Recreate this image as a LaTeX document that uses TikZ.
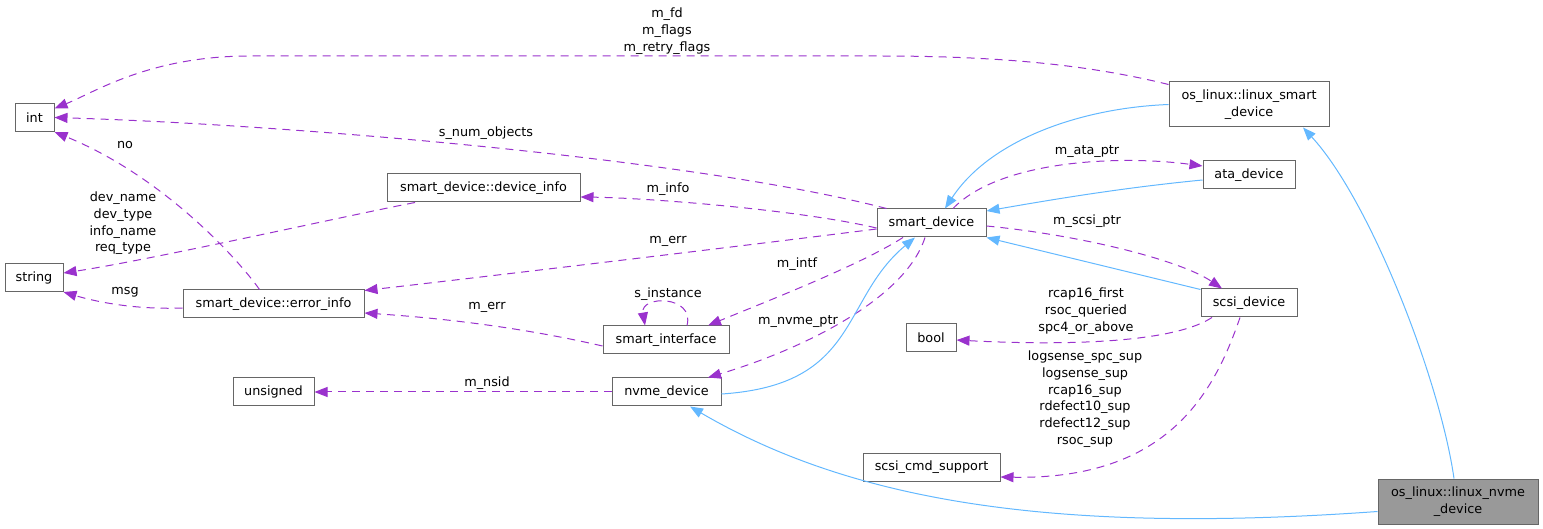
\documentclass[tikz,border=0pt]{standalone}
\usepackage{fontspec}
\newfontfamily\dvs{DejaVu Sans}
\usetikzlibrary{arrows.meta}

\definecolor{roxo}{HTML}{9A32CD}
\definecolor{azul}{HTML}{63B8FF}
\definecolor{borda}{HTML}{666666}
\definecolor{cinza}{HTML}{999999}

\begin{document}
\begin{tikzpicture}[x=1pt, y=-1pt,
    every node/.style={font=\dvs\fontsize{12.8}{16.7}\selectfont},
    cls/.style={draw=borda, fill=white, line width=1pt, minimum height=28pt, inner sep=0pt, align=center},
    hcls/.style={cls, fill=cinza, minimum height=45pt},
    lbl/.style={inner sep=0pt, align=center},
    uses/.style={roxo, line width=1pt, dash pattern=on 8pt off 6pt, -{Triangle[length=13pt,width=10pt]}},
    inh/.style={azul, line width=1pt, -{Triangle[length=13pt,width=10pt]}}]

        \useasboundingbox (0,0) rectangle (1543,529);

        % classes
        \node[cls, minimum width=39pt] (int) at (34.5,117.5) {int};
        \node[cls, minimum width=58pt] (string) at (34,277.5) {string};
        \node[cls, minimum width=193pt] (devinfo) at (483.5,188) {smart\_device::device\_info};
        \node[cls, minimum width=181pt] (errinfo) at (273.5,304) {smart\_device::error\_info};
        \node[cls, minimum width=81pt] (unsigned) at (273.5,392) {unsigned};
        \node[cls, minimum width=109pt] (smartdev) at (931.5,223) {smart\_device};
        \node[cls, minimum width=126pt] (smartif) at (666,340) {smart\_interface};
        \node[cls, minimum width=109pt] (nvme) at (666.5,392) {nvme\_device};
        \node[cls, minimum width=50pt] (bool) at (931,338) {bool};
        \node[cls, minimum width=137pt] (cmdsup) at (931.5,467) {scsi\_cmd\_support};
        \node[cls, minimum width=160pt, minimum height=45pt] (lsmart) at (1249,104.5) {os\_linux::linux\_smart\\\_device};
        \node[cls, minimum width=92pt] (ata) at (1249,175) {ata\_device};
        \node[cls, minimum width=96pt] (scsi) at (1249,303) {scsi\_device};
        \node[hcls, minimum width=160pt] (lnvme) at (1458,501.5) {os\_linux::linux\_nvme\\\_device};

        % membros (tracejado)
        \draw[uses] ([yshift=-3pt]lsmart.north west) .. controls (1090,65) and (1000,56) .. (880,56)
            -- (250,56) .. controls (150,56) and (95,92) .. ([yshift=9pt]int.east);
        \draw[uses] ([xshift=10pt]smartdev.north west) .. controls (700,160) and (300,125) .. (int.east);
        \draw[uses] ([xshift=-14pt]errinfo.north) .. controls (235,255) and (160,175) .. (int.south east);
        \draw[uses] ([xshift=-68.5pt]devinfo.south) .. controls (350,215) and (150,260) .. ([yshift=4.5pt]string.east);
        \draw[uses] ([yshift=-4pt]errinfo.west) .. controls (130,310) and (90,300) .. (string.south east);
        \draw[uses] ([yshift=-5pt]smartdev.west) .. controls (800,210) and (650,198) .. ([yshift=-9pt]devinfo.east);
        \draw[uses] ([yshift=-6pt]smartdev.west) .. controls (750,245) and (500,275) .. ([yshift=-1pt]errinfo.north east);
        \draw[uses] ([yshift=-6pt]smartif.west) .. controls (520,327) and (440,318) .. ([yshift=-9pt]errinfo.east);
        \draw[uses] ([xshift=-28.5pt]smartdev.south) .. controls (860,265) and (770,300) .. ([xshift=42pt]smartif.north);
        \draw[uses] ([xshift=21pt]smartif.north) .. controls (695,295) and (640,295) .. ([xshift=-21pt]smartif.north);
        \draw[uses] ([xshift=-6.5pt]smartdev.south) .. controls (905,300) and (800,350) .. ([xshift=41.5pt]nvme.north);
        \draw[uses] (nvme.west) -- (unsigned.east);
        \draw[uses] ([xshift=21.5pt]smartdev.north) .. controls (1000,160) and (1120,155) .. ([yshift=9pt]ata.west);
        \draw[uses] ([yshift=-3pt]smartdev.east) .. controls (1080,235) and (1180,260) .. ([xshift=-27pt]scsi.north);
        \draw[uses] ([xshift=-37pt]scsi.south) .. controls (1170,345) and (1050,345) .. ([yshift=-2pt]bool.east);
        \draw[uses] ([xshift=-9pt]scsi.south) .. controls (1215,390) and (1170,480) .. ([yshift=-10pt]cmdsup.east);

        % herança
        \draw[inh] ([yshift=-2pt]nvme.east) .. controls (860,385) and (840,300) .. ([xshift=-16.5pt]smartdev.south);
        \draw[inh] ([yshift=-5pt]ata.west) .. controls (1120,188) and (1050,200) .. ([yshift=12pt]smartdev.east);
        \draw[inh] (lsmart.west) .. controls (1080,108) and (990,140) .. ([xshift=13.5pt]smartdev.north);
        \draw[inh] ([yshift=-1pt]scsi.north west) -- (smartdev.south east);
        \draw[inh] ([xshift=-4pt]lnvme.north) .. controls (1440,380) and (1370,200) .. ([xshift=54pt]lsmart.south);
        \draw[inh] ([yshift=-10pt]lnvme.west) .. controls (1050,535) and (850,500) .. ([xshift=23.5pt]nvme.south);

        % rótulos
        \node[lbl] (lfd) at (667,31) {m\_fd\\m\_flags\\m\_retry\_flags};
        \node[lbl] (lnum) at (486,133) {s\_num\_objects};
        \node[lbl] (lno) at (125,145) {no};
        \node[lbl] (ldev) at (123,223.5) {dev\_name\\dev\_type\\info\_name\\req\_type};
        \node[lbl] (lmsg) at (125,292) {msg};
        \node[lbl] (linfo) at (668,189) {m\_info};
        \node[lbl] (lerra) at (668,241) {m\_err};
        \node[lbl] (lerrb) at (487,307) {m\_err};
        \node[lbl] (lintf) at (797,264) {m\_intf};
        \node[lbl] (linst) at (668,294) {s\_instance};
        \node[lbl] (lnvmep) at (798,322) {m\_nvme\_ptr};
        \node[lbl] (lnsid) at (487,383) {m\_nsid};
        \node[lbl] (lata) at (1087,152) {m\_ata\_ptr};
        \node[lbl] (lscsi) at (1087,221) {m\_scsi\_ptr};
        \node[lbl] (lbool) at (1086,311) {rcap16\_first\\rsoc\_queried\\spc4\_or\_above};
        \node[lbl] (lcmd) at (1085,399) {logsense\_spc\_sup\\logsense\_sup\\rcap16\_sup\\rdefect10\_sup\\rdefect12\_sup\\rsoc\_sup};

\end{tikzpicture}
\end{document}
